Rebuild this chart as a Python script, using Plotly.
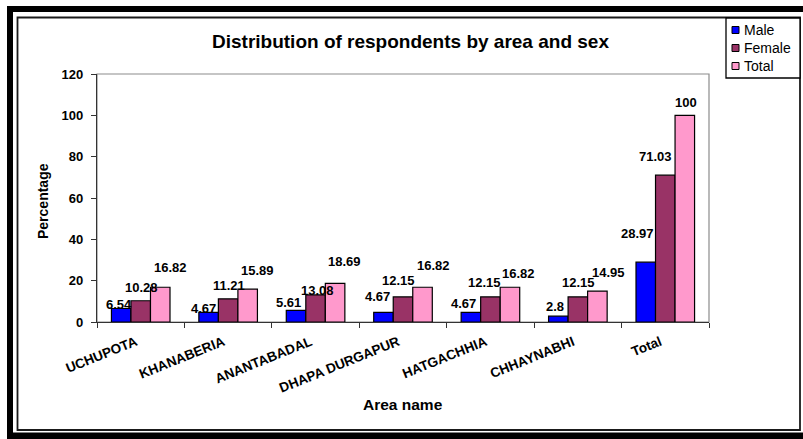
import plotly.graph_objects as go

# Respondents (%) by area and sex
areas = ["UCHUPOTA", "KHANABERIA", "ANANTABADAL", "DHAPA DURGAPUR",
         "HATGACHHIA", "CHHAYNABHI", "Total"]
male = [6.54, 4.67, 5.61, 4.67, 4.67, 2.8, 28.97]
female = [10.28, 11.21, 13.08, 12.15, 12.15, 12.15, 71.03]
total = [16.82, 15.89, 18.69, 16.82, 16.82, 14.95, 100]

series_names = ["Male", "Female", "Total"]
series_values = [male, female, total]
series_colors = ["#0000FF", "#993366", "#FF99CC"]

FONT = "Liberation Sans, Arial, sans-serif"
W, H = 803, 439
L, R, T, B = 97, 94, 74, 117
PW, PH = W - L - R, H - T - B
BARGAP = 0.33

def fx(px):
    return (px - L) / PW

def fy(py):
    return (H - B - py) / PH

fig = go.Figure()
for name, vals, col in zip(series_names, series_values, series_colors):
    fig.add_trace(go.Bar(
        x=areas, y=vals, name=name, marker_color=col,
        marker_line_color="black", marker_line_width=1.2,
        showlegend=False,
    ))

# hand-placed value labels: (dx, dy) pixel nudges from the top centre of each bar
label_nudges = [
    [(-2, 3.5), (-5, 3.8), (-7.5, 8.4), (-5.5, 16), (-7, 8.8), (-3, 9.7), (-8.3, 29)],
    [(1, 13.7), (1, 13.8), (2, 4.5), (-4.5, 16.4), (-6, 13.9), (1, 13.9), (-9.3, 19)],
    [(9.8, 20), (9.4, 18.5), (9, 21.4), (10.5, 22), (9, 14.2), (11.6, 19), (1.2, 12.8)],
]
cat_px = PW / len(areas)
bar_px = cat_px * (1 - BARGAP) / 3
bar_offsets = [-bar_px, 0, bar_px]

annotations = []
for s, vals in enumerate(series_values):
    for i, v in enumerate(vals):
        dx, dy = label_nudges[s][i]
        annotations.append(dict(
            x=areas[i], y=v, xref="x", yref="y", text=f"{v:g}",
            showarrow=False, xanchor="center", yanchor="middle",
            xshift=bar_offsets[s] + dx, yshift=dy,
            font=dict(family=FONT, size=13, color="black", weight="bold"),
        ))

# titles
annotations.append(dict(
    x=fx(410), y=fy(42), xref="paper", yref="paper",
    text="Distribution of respondents by area and sex", showarrow=False,
    xanchor="center", yanchor="middle",
    font=dict(family=FONT, size=19, color="black", weight="bold"),
))
annotations.append(dict(
    x=fx(403), y=fy(404.5), xref="paper", yref="paper", text="Area name",
    showarrow=False, xanchor="center", yanchor="middle",
    font=dict(family=FONT, size=15.5, color="black", weight="bold"),
))
annotations.append(dict(
    x=fx(43), y=fy(201), xref="paper", yref="paper", text="Percentage",
    showarrow=False, xanchor="center", yanchor="middle", textangle=-90,
    font=dict(family=FONT, size=14, color="black", weight="bold"),
))

shapes = []

def rect(x0, y0, x1, y1, **kw):
    shapes.append(dict(type="rect", xref="paper", yref="paper",
                       x0=fx(x0), x1=fx(x1), y0=fy(y1), y1=fy(y0), **kw))

# plot-area border (grey top/right)
rect(L, T, L + PW, T + PH, line=dict(color="#8c8c8c", width=1.2), layer="below")

# outer heavy frame and thin inner frame
rect(7, 6, 13, 439, fillcolor="black", line=dict(width=0))
rect(7, 6, 803, 12, fillcolor="black", line=dict(width=0))
rect(7, 432.5, 803, 439, fillcolor="black", line=dict(width=0))
rect(17.5, 17.5, 800, 430, line=dict(color="#1a1a1a", width=1.8))

# legend box with swatches
rect(726, 18, 800, 78, fillcolor="white", line=dict(color="black", width=1.3))
legend_y = [30, 48, 66]
for name, col, ly in zip(series_names, series_colors, legend_y):
    rect(732, ly - 3.5, 739, ly + 3.5, fillcolor=col, line=dict(color="black", width=1))
    annotations.append(dict(
        x=fx(742), y=fy(ly), xref="paper", yref="paper", text=name,
        showarrow=False, xanchor="left", yanchor="middle",
        font=dict(family=FONT, size=14, color="black"),
    ))

fig.update_layout(
    width=W, height=H,
    margin=dict(l=L, r=R, t=T, b=B, pad=0),
    paper_bgcolor="white", plot_bgcolor="white",
    barmode="group", bargap=BARGAP, bargroupgap=0,
    showlegend=False,
    annotations=annotations, shapes=shapes,
    xaxis=dict(
        type="category", tickangle=-22, tickson="boundaries",
        ticks="outside", ticklen=5, tickcolor="#333", tickwidth=1,
        ticklabelstandoff=6, ticklabelshift=-5,
        showline=True, linecolor="#333", linewidth=1.2,
        showgrid=False, zeroline=False,
        tickfont=dict(family=FONT, size=13.5, color="black", weight="bold"),
    ),
    yaxis=dict(
        range=[0, 120], dtick=20, ticks="outside", ticklen=5,
        tickcolor="#333", tickwidth=1, ticklabelstandoff=5,
        showline=True, linecolor="#333", linewidth=1.2,
        showgrid=False, zeroline=False,
        tickfont=dict(family=FONT, size=13, color="black", weight="bold"),
    ),
)

fig.write_html("out.html")
